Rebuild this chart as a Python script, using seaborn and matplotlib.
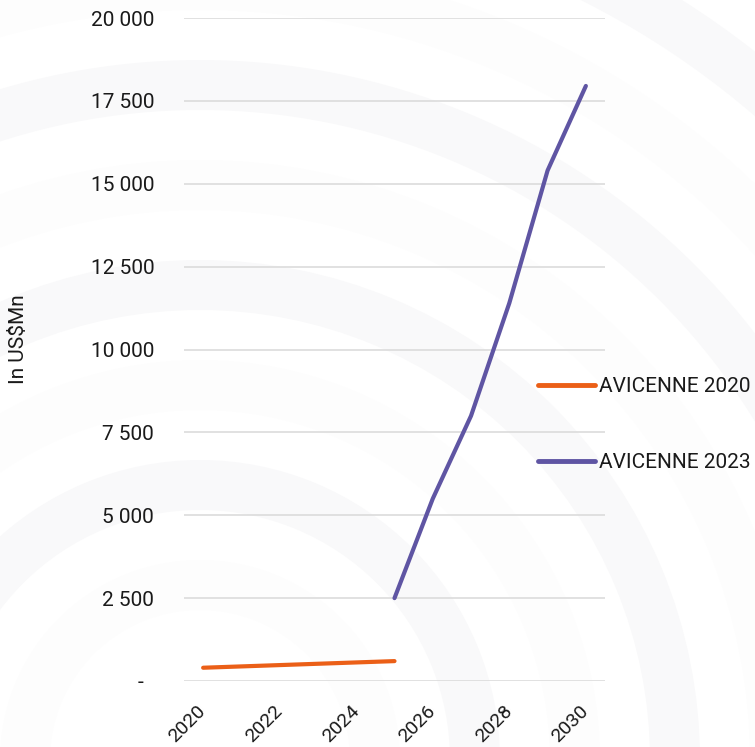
import numpy as np
import pandas as pd
import matplotlib
matplotlib.use("Agg")
import matplotlib.pyplot as plt
from matplotlib.patches import Wedge
import seaborn as sns

# Market size series (US$ millions)
years_2020 = [2020, 2025]
values_2020 = [400, 600]
years_2023 = [2025, 2026, 2027, 2028, 2029, 2030]
values_2023 = [2500, 5500, 8000, 11400, 15400, 17950]
series_names = ["AVICENNE 2020", "AVICENNE 2023"]
series_colors = ["#EB5F17", "#5F55A3"]
y_ticks = [0, 2500, 5000, 7500, 10000, 12500, 15000, 17500, 20000]
x_ticks = [2020, 2022, 2024, 2026, 2028, 2030]

df = pd.concat([
    pd.DataFrame({"year": years_2020, "value": values_2020, "series": series_names[0]}),
    pd.DataFrame({"year": years_2023, "value": values_2023, "series": series_names[1]}),
], ignore_index=True)

sns.set_theme(style="white")
plt.rcParams["font.family"] = ["Roboto", "DejaVu Sans"]
plt.rcParams["text.color"] = "#1a1a1a"

W, H = 755, 747
FS = 15
fig = plt.figure(figsize=(W / 100, H / 100), dpi=100)
fig.patch.set_facecolor("white")

# faint concentric rings in the background
bg = fig.add_axes([0, 0, 1, 1], zorder=-5)
bg.set_xlim(0, W)
bg.set_ylim(H, 0)
bg.axis("off")
cx, cy = 200, 760
for i, r in enumerate(range(1100, 150, -100)):
    bg.add_patch(Wedge((cx, cy), r, 0, 360, width=50,
                       facecolor="#f9f9fa" if i % 2 == 0 else "#fdfdfd",
                       edgecolor="none"))

ax = fig.add_axes([184 / W, (H - 681) / H, 421 / W, 663 / H])
ax.patch.set_alpha(0)

sns.lineplot(data=df, x="year", y="value", hue="series",
             palette=dict(zip(series_names, series_colors)),
             linewidth=3, ax=ax, legend=True)
for ln in ax.lines:
    ln.set_solid_capstyle("round")
    ln.set_clip_on(False)

ax.set_xlim(2019.5, 2030.5)
ax.set_ylim(0, 20000)
ax.set_yticks(y_ticks)
ax.set_yticklabels(["-  " if v == 0 else f"{v:,}".replace(",", " ") for v in y_ticks])
ax.set_xticks(x_ticks)
ax.set_xticklabels([str(x) for x in x_ticks], rotation=45, ha="right",
                   va="center", rotation_mode="anchor")
ax.tick_params(axis="y", length=0, pad=21.5, labelsize=FS, labelcolor="#1a1a1a")
ax.tick_params(axis="x", length=0, pad=20, labelsize=14, labelcolor="#1a1a1a")
ax.grid(axis="y", color="#d9d9d9", linewidth=1.1)
ax.grid(axis="x", visible=False)
for s in ax.spines.values():
    s.set_visible(False)

ax.set_xlabel("")
ax.set_ylabel("In US$Mn", fontsize=FS, color="#1a1a1a")
ax.yaxis.set_label_coords(-0.37, 0.515)

handles, labels = ax.get_legend_handles_labels()
ax.get_legend().remove()
leg = fig.legend(handles, labels, loc="upper left",
                 bbox_to_anchor=(538 / W, 1 - 377 / H),
                 frameon=False, fontsize=FS, handlelength=2.75,
                 handletextpad=0.2, labelspacing=2.75,
                 borderpad=0, borderaxespad=0)
for h in leg.get_lines():
    h.set_linewidth(3.5)
    h.set_solid_capstyle("round")

fig.savefig("out.png", dpi=100, facecolor="white")
